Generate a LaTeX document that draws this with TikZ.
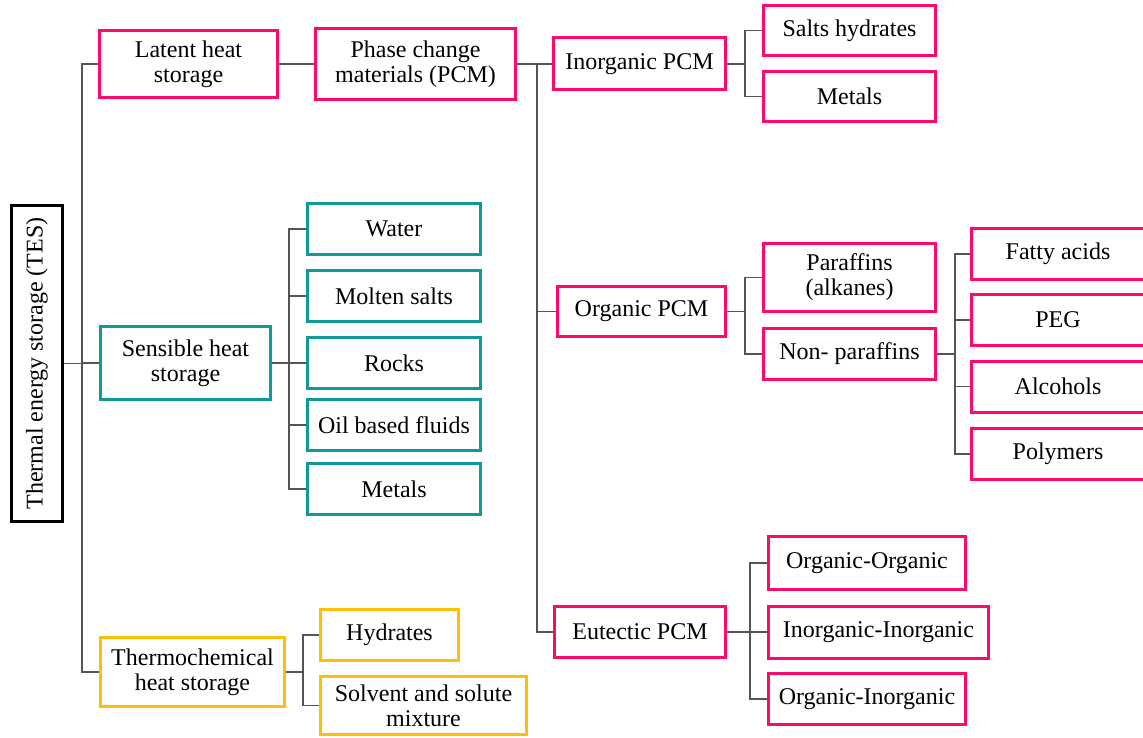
\documentclass[tikz,border=0pt]{standalone}
\usepackage{fontspec}
\setmainfont{Liberation Serif}
\definecolor{cpink}{HTML}{FF0A6C}
\definecolor{cteal}{HTML}{0E9A98}
\definecolor{cyell}{HTML}{FFC000}
\definecolor{cline}{HTML}{555555}
\begin{document}
\begin{tikzpicture}[x=1pt,y=-1pt,
  box/.style={draw,line width=3pt,inner sep=0pt,align=center,fill=white,
    font=\fontsize{24}{25}\selectfont},
  pinkbox/.style={box,draw=cpink},
  tealbox/.style={box,draw=cteal},
  yellbox/.style={box,draw=cyell},
  blackbox/.style={box,draw=black,line width=3.5pt},
  conn/.style={draw=cline,line width=1.2pt}]
\useasboundingbox (0,0) rectangle (1143,738);
\begin{scope}
\clip (0,0) rectangle (1143,738);
% bracket coordinates
\coordinate (b0) at (82,0);
\coordinate (bP) at (537,0);
\coordinate (bI) at (745,0);
\coordinate (bO) at (745,0);
\coordinate (bN) at (955,0);
\coordinate (bE) at (750,0);
\coordinate (bS) at (289,0);
\coordinate (bT) at (303,0);

\node[blackbox,rotate=90,minimum width=316,minimum height=51] (tes) at (37,363.5) {Thermal energy storage (TES)};

\node[pinkbox,minimum width=178,minimum height=67] (latent) at (188.5,64) {Latent heat\\storage};
\node[pinkbox,minimum width=200,minimum height=71] (pcm) at (415.5,64) {Phase change\\materials (PCM)};
\node[pinkbox,minimum width=172,minimum height=52] (inorg) at (639.5,64) {Inorganic PCM};
\node[pinkbox,minimum width=172,minimum height=50] (salts) at (849.5,30.5) {Salts hydrates};
\node[pinkbox,minimum width=172,minimum height=50] (metI) at (849.5,96.5) {Metals};
\node[pinkbox,minimum width=168,minimum height=50] (org) at (641.5,311.5) {Organic PCM};
\node[pinkbox,minimum width=172,minimum height=68] (paraf) at (849.5,277.5) {Paraffins\\(alkanes)};
\node[pinkbox,minimum width=172,minimum height=51] (nonp) at (849.5,354) {Non- paraffins};
\node[pinkbox,minimum width=173,minimum height=51] (fatty) at (1058,254) {Fatty acids};
\node[pinkbox,minimum width=173,minimum height=51] (peg) at (1058,320) {PEG};
\node[pinkbox,minimum width=173,minimum height=51] (alc) at (1058,386.5) {Alcohols};
\node[pinkbox,minimum width=173,minimum height=51] (poly) at (1058,454) {Polymers};
\node[pinkbox,minimum width=171,minimum height=51] (eut) at (640,632) {Eutectic PCM};
\node[pinkbox,minimum width=197,minimum height=53] (oo) at (867,563) {Organic-Organic};
\node[pinkbox,minimum width=220,minimum height=52] (ii) at (878.5,632) {Inorganic-Inorganic};
\node[pinkbox,minimum width=197,minimum height=51] (oi) at (867,699) {Organic-Inorganic};

\node[tealbox,minimum width=170,minimum height=73] (sens) at (185.5,363) {Sensible heat\\storage};
\node[tealbox,minimum width=173,minimum height=51] (water) at (394,229) {Water};
\node[tealbox,minimum width=173,minimum height=51] (molten) at (394,296) {Molten salts};
\node[tealbox,minimum width=173,minimum height=51] (rocks) at (394,363) {Rocks};
\node[tealbox,minimum width=173,minimum height=51] (oil) at (394,425) {Oil based fluids};
\node[tealbox,minimum width=173,minimum height=51] (metS) at (394,489) {Metals};

\node[yellbox,minimum width=184,minimum height=69] (thermo) at (192.5,672) {Thermochemical\\heat storage};
\node[yellbox,minimum width=138,minimum height=51] (hydr) at (389.5,635) {Hydrates};
\node[yellbox,minimum width=206,minimum height=58] (solv) at (423.5,705.5) {Solvent and solute\\mixture};

% connectors
\path[conn] (tes.south) -- (tes.south -| b0);
\path[conn] (latent.west) -- (latent.west -| b0) -- (b0 |- thermo.west) -- (thermo.west);
\path[conn] (b0 |- sens.west) -- (sens.west);
\path[conn] (latent.east) -- (pcm.west);
\path[conn] (pcm.east) -- (pcm.east -| bP) -- (bP |- eut.west) -- (eut.west);
\path[conn] (bP |- inorg.west) -- (inorg.west);
\path[conn] (bP |- org.west) -- (org.west);
\path[conn] (inorg.east) -- (inorg.east -| bI);
\path[conn] (salts.west) -- (salts.west -| bI) -- (bI |- metI.west) -- (metI.west);
\path[conn] (org.east) -- (org.east -| bO);
\path[conn] (paraf.west) -- (paraf.west -| bO) -- (bO |- nonp.west) -- (nonp.west);
\path[conn] (nonp.east) -- (nonp.east -| bN);
\path[conn] (fatty.west) -- (fatty.west -| bN) -- (bN |- poly.west) -- (poly.west);
\path[conn] (bN |- peg.west) -- (peg.west);
\path[conn] (bN |- alc.west) -- (alc.west);
\path[conn] (eut.east) -- (ii.west);
\path[conn] (oo.west) -- (oo.west -| bE) -- (bE |- oi.west) -- (oi.west);
\path[conn] (sens.east) -- (rocks.west);
\path[conn] (water.west) -- (water.west -| bS) -- (bS |- metS.west) -- (metS.west);
\path[conn] (bS |- molten.west) -- (molten.west);
\path[conn] (bS |- oil.west) -- (oil.west);
\path[conn] (thermo.east) -- (thermo.east -| bT);
\path[conn] (hydr.west) -- (hydr.west -| bT) -- (bT |- solv.west) -- (solv.west);
\end{scope}
\end{tikzpicture}
\end{document}
